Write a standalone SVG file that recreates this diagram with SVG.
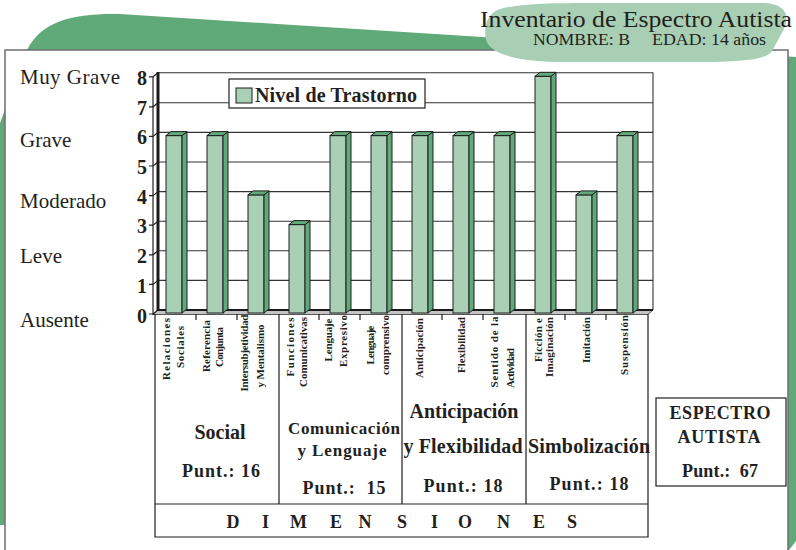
<svg xmlns="http://www.w3.org/2000/svg" width="796" height="550" viewBox="0 0 796 550">
<style>
.serif{font-family:"Liberation Serif","Times New Roman",serif;fill:#231f20}
.b{font-weight:bold}
.grid{stroke:#333;stroke-width:1.1;fill:none}
.ln{stroke:#231f20;stroke-width:1.2;fill:none}
.front{fill:#a9d0b5;stroke:#1f1f1f;stroke-width:1}
.side{fill:#5fa97a;stroke:#1f1f1f;stroke-width:1}
.rot{font-family:"Liberation Serif","Times New Roman",serif;font-weight:bold;font-size:11px;fill:#231f20;text-anchor:middle}
.grp{font-family:"Liberation Serif","Times New Roman",serif;font-weight:bold;fill:#231f20;text-anchor:middle}
</style>

<g id="background">
<path d="M0,525 L0,123 L27,50 C42,20 75,13 120,14 L796,57 L796,541 L789,550 L5,550 L5,525 Z" fill="#60aa7a"/>
<rect x="5" y="50" width="783" height="520" fill="#ffffff" stroke="#6d6e71" stroke-width="1.5"/>
<path d="M500,9 C525,2 570,3 620,3 L762,3 C786,3 791,16 783,31 L772,51 C766,60 742,62 700,62 L565,62 C520,62 491,55 486,40 C483,25 488,13 500,9 Z" fill="#a8cfb4"/>
</g>

<g id="header">
<text class="serif" x="480" y="27" font-size="23" textLength="312" lengthAdjust="spacingAndGlyphs">Inventario de Espectro Autista</text>
<text class="serif" x="533" y="45" font-size="16" textLength="97" lengthAdjust="spacingAndGlyphs">NOMBRE: B</text>
<text class="serif" x="652" y="45" font-size="16" textLength="114" lengthAdjust="spacingAndGlyphs">EDAD: 14 años</text>
</g>

<g id="severity-labels" class="serif" font-size="21">
<text x="20" y="84" textLength="100">Muy Grave</text>
<text x="20" y="147">Grave</text>
<text x="20" y="208">Moderado</text>
<text x="20" y="263">Leve</text>
<text x="20" y="327">Ausente</text>
</g>

<g id="plot-area">
<rect x="158" y="72.5" width="495" height="237.5" fill="#ffffff"/>
<path class="grid" d="M158,72.8H653 M158,102.8H653 M158,132.4H653 M158,162H653 M158,191.6H653 M158,221.2H653 M158,250.8H653 M158,280.4H653"/>
<line class="grid" x1="653" y1="72.5" x2="653" y2="310"/>
<path d="M158,310 L653,310 L648,314.5 L153,314.5 Z" fill="#c4c4c4" stroke="#333" stroke-width="0.8"/>
<line x1="158" y1="310" x2="653" y2="310" stroke="#1a1a1a" stroke-width="2.2"/>
<line x1="158" y1="72" x2="158" y2="311" stroke="#1a1a1a" stroke-width="3"/>
<line class="ln" x1="153" y1="77" x2="153" y2="315"/>
<path class="ln" d="M149,76.8H153L158,72.8 M149,106.8H153L158,102.8 M149,136.4H153L158,132.4 M149,166H153L158,162 M149,195.6H153L158,191.6 M149,225.2H153L158,221.2 M149,254.8H153L158,250.8 M149,284.4H153L158,280.4 M149,314H153L158,310"/>
</g>

<g id="y-axis-numbers" class="serif b" font-size="20" text-anchor="end">
<text x="147" y="85">8</text>
<text x="147" y="115">7</text>
<text x="147" y="144">6</text>
<text x="147" y="174">5</text>
<text x="147" y="204">4</text>
<text x="147" y="233">3</text>
<text x="147" y="263">2</text>
<text x="147" y="293">1</text>
<text x="147" y="323">0</text>
</g>

<g id="legend">
<rect x="229" y="79" width="196" height="29" fill="#ffffff" stroke="#231f20" stroke-width="1.2"/>
<rect x="236" y="88" width="16" height="15" class="front"/>
<text class="serif b" x="255" y="102" font-size="20" textLength="162">Nivel de Trastorno</text>
</g>

<g id="bars">
<g id="bar-1"><rect class="front" x="166" y="135.6" width="16" height="177.4"/><path class="side" d="M182,135.6 L187,131.6 L187,309 L182,313 Z"/><path class="side" d="M166,135.6 L171,131.6 L187,131.6 L182,135.6 Z"/></g>
<g id="bar-2"><rect class="front" x="207" y="135.6" width="16" height="177.4"/><path class="side" d="M223,135.6 L228,131.6 L228,309 L223,313 Z"/><path class="side" d="M207,135.6 L212,131.6 L228,131.6 L223,135.6 Z"/></g>
<g id="bar-3"><rect class="front" x="248" y="194.9" width="16" height="118.1"/><path class="side" d="M264,194.9 L269,190.9 L269,309 L264,313 Z"/><path class="side" d="M248,194.9 L253,190.9 L269,190.9 L264,194.9 Z"/></g>
<g id="bar-4"><rect class="front" x="289" y="224.6" width="16" height="88.4"/><path class="side" d="M305,224.6 L310,220.6 L310,309 L305,313 Z"/><path class="side" d="M289,224.6 L294,220.6 L310,220.6 L305,224.6 Z"/></g>
<g id="bar-5"><rect class="front" x="330" y="135.6" width="16" height="177.4"/><path class="side" d="M346,135.6 L351,131.6 L351,309 L346,313 Z"/><path class="side" d="M330,135.6 L335,131.6 L351,131.6 L346,135.6 Z"/></g>
<g id="bar-6"><rect class="front" x="371" y="135.6" width="16" height="177.4"/><path class="side" d="M387,135.6 L392,131.6 L392,309 L387,313 Z"/><path class="side" d="M371,135.6 L376,131.6 L392,131.6 L387,135.6 Z"/></g>
<g id="bar-7"><rect class="front" x="412" y="135.6" width="16" height="177.4"/><path class="side" d="M428,135.6 L433,131.6 L433,309 L428,313 Z"/><path class="side" d="M412,135.6 L417,131.6 L433,131.6 L428,135.6 Z"/></g>
<g id="bar-8"><rect class="front" x="453" y="135.6" width="16" height="177.4"/><path class="side" d="M469,135.6 L474,131.6 L474,309 L469,313 Z"/><path class="side" d="M453,135.6 L458,131.6 L474,131.6 L469,135.6 Z"/></g>
<g id="bar-9"><rect class="front" x="494" y="135.6" width="16" height="177.4"/><path class="side" d="M510,135.6 L515,131.6 L515,309 L510,313 Z"/><path class="side" d="M494,135.6 L499,131.6 L515,131.6 L510,135.6 Z"/></g>
<g id="bar-10"><rect class="front" x="535" y="76.3" width="16" height="236.7"/><path class="side" d="M551,76.3 L556,72.3 L556,309 L551,313 Z"/><path class="side" d="M535,76.3 L540,72.3 L556,72.3 L551,76.3 Z"/></g>
<g id="bar-11"><rect class="front" x="576" y="194.9" width="16" height="118.1"/><path class="side" d="M592,194.9 L597,190.9 L597,309 L592,313 Z"/><path class="side" d="M576,194.9 L581,190.9 L597,190.9 L592,194.9 Z"/></g>
<g id="bar-12"><rect class="front" x="617" y="135.6" width="16" height="177.4"/><path class="side" d="M633,135.6 L638,131.6 L638,309 L633,313 Z"/><path class="side" d="M617,135.6 L622,131.6 L638,131.6 L633,135.6 Z"/></g>
</g>

<g id="table-lines" class="ln">
<path d="M155,314V537H648V314"/>
<path d="M155,504H648"/>
<path d="M279,314V504 M402,314V504 M526,314V504"/>
<path d="M196,314V320 M237,314V320 M319,314V320 M360,314V320 M442,314V320 M483,314V320 M565,314V320 M606,314V320"/>
</g>

<g id="item-labels">
<text class="rot" transform="translate(170,349) rotate(-90)" textLength="62">Relaciones</text>
<text class="rot" transform="translate(184,347) rotate(-90)" textLength="42">Sociales</text>
<text class="rot" transform="translate(210,346) rotate(-90)" textLength="52">Referencia</text>
<text class="rot" transform="translate(223,347) rotate(-90)" textLength="40">Conjunta</text>
<text class="rot" transform="translate(248,353) rotate(-90)" textLength="77">Intersubjetividad</text>
<text class="rot" transform="translate(264,356) rotate(-90)" textLength="63">y Mentalismo</text>
<text class="rot" transform="translate(294,347) rotate(-90)" textLength="59">Funciones</text>
<text class="rot" transform="translate(307,352) rotate(-90)" textLength="70">Comunicativas</text>
<text class="rot" transform="translate(332,340) rotate(-90)" textLength="43">Lenguaje</text>
<text class="rot" transform="translate(347,341) rotate(-90)" textLength="52">Expresivo</text>
<text class="rot" transform="translate(374,345) rotate(-90)" textLength="39">Lenguaje</text>
<text class="rot" transform="translate(389,345) rotate(-90)" textLength="60">comprensivo</text>
<text class="rot" transform="translate(423,348) rotate(-90)" textLength="60">Anticipación</text>
<text class="rot" transform="translate(465,345) rotate(-90)" textLength="56">Flexibilidad</text>
<text class="rot" transform="translate(498,352) rotate(-90)" textLength="71">Sentido de la</text>
<text class="rot" transform="translate(514,368) rotate(-90)" textLength="40">Actividad</text>
<text class="rot" transform="translate(542,340) rotate(-90)" textLength="44">Ficción e</text>
<text class="rot" transform="translate(553,347) rotate(-90)" textLength="60">Imaginación</text>
<text class="rot" transform="translate(590,340) rotate(-90)" textLength="46">Imitación</text>
<text class="rot" transform="translate(628,345) rotate(-90)" textLength="60">Suspensión</text>
</g>

<g id="group-social" class="grp">
<text x="220" y="439" font-size="20">Social</text>
<text x="221" y="477" font-size="18" textLength="78">Punt.: 16</text>
</g>
<g id="group-comunicacion" class="grp">
<text x="344" y="434" font-size="17" textLength="112">Comunicación</text>
<text x="342" y="456" font-size="17" textLength="89">y Lenguaje</text>
<text x="344" y="494" font-size="18" xml:space="preserve" textLength="83">Punt.:  15</text>
</g>
<g id="group-anticipacion" class="grp">
<text x="464" y="418" font-size="20">Anticipación</text>
<text x="463" y="453" font-size="20" textLength="119">y Flexibilidad</text>
<text x="463" y="492" font-size="18" textLength="79">Punt.: 18</text>
</g>
<g id="group-simbolizacion" class="grp">
<text x="589" y="453" font-size="20" textLength="122">Simbolización</text>
<text x="589" y="490" font-size="18" textLength="79">Punt.: 18</text>
</g>

<g id="dimensiones" class="grp">
<text y="528" font-size="18" x="233 265.5 298.5 336 365 402 434.5 465 503.5 539 572">DIMENSIONES</text>
</g>

<g id="espectro-box">
<rect x="656" y="398" width="130" height="88" fill="#ffffff" stroke="#231f20" stroke-width="1.2"/>
<text class="grp" x="720" y="419" font-size="18" textLength="101">ESPECTRO</text>
<text class="grp" x="719" y="443" font-size="18" textLength="83">AUTISTA</text>
<text class="grp" x="720" y="477" font-size="18" xml:space="preserve" textLength="76">Punt.:  67</text>
</g>
</svg>
